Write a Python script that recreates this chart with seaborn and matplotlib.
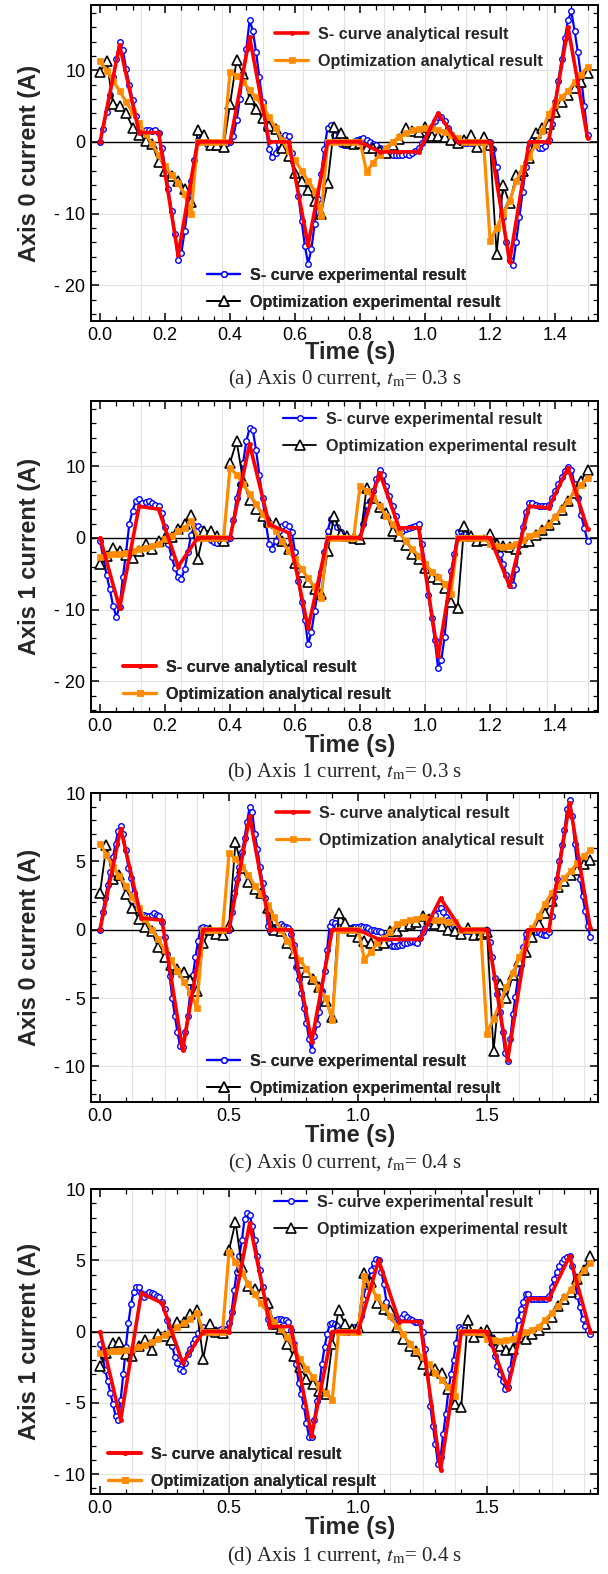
import numpy as np
import matplotlib
matplotlib.use("Agg")
import matplotlib.pyplot as plt
from matplotlib.ticker import MultipleLocator, FuncFormatter
import seaborn as sns

sns.set_style("ticks")
plt.rcParams["font.family"] = ["Liberation Sans", "DejaVu Sans"]
plt.rcParams["mathtext.fontset"] = "stix"

# ---------------------------------------------------------------------------
# (a) Axis 0 current, tm = 0.3 s
# ---------------------------------------------------------------------------
a_scurve_ana_t = [0, 0.06, 0.12, 0.18, 0.24, 0.30, 0.40, 0.46, 0.52, 0.58, 0.64, 0.70,
                  0.80, 0.86, 0.92, 0.98, 1.04, 1.10, 1.20, 1.26, 1.32, 1.38, 1.44, 1.50]
a_scurve_ana_v = [0, 13.5, 1.3, 1.3, -15.8, 0, 0, 14.6, 0, 0, -14.4, 0,
                  0, -1.4, -1.4, -1.4, 4.0, 0, 0, -16.7, 0, 0, 16.0, 0.5]
# sampled every 0.01 s
a_scurve_exp = [
    0.0, 1.8, 4.2, 6.6, 9.0, 11.5, 14.0, 12.8, 10.2, 8.0,
    5.8, 3.6, 1.8, 1.4, 1.6, 1.7, 1.5, 1.7, 1.2, -0.8,
    -3.6, -6.6, -9.6, -12.8, -16.5, -15.5, -12.5, -9.0, -5.5, -2.5,
    0.3, 0.6, 0.2, -0.3, -0.5, -0.7, -0.6, -0.7, -0.4, -0.2,
    0.0, 0.8, 3.0, 6.0, 9.5, 13.0, 17.0, 15.5, 12.5, 9.0,
    5.5, 2.0, -1.0, -2.1, -1.5, -0.3, 0.6, 1.0, 0.8, -1.5,
    -4.5, -7.5, -11.0, -14.5, -17.0, -15.0, -11.5, -8.0, -4.5, -1.0,
    2.0, 2.3, 1.0, 0.2, -0.3, -0.5, -0.4, -0.2, 0.0, 0.2,
    0.4, 0.6, 0.3, 0.0, -0.3, -0.5, -0.8, -1.1, -1.4, -1.6,
    -1.8, -1.8, -1.9, -1.8, -1.7, -1.8, -1.6, -1.3, -0.9, -0.2,
    0.5, 1.3, 2.1, 2.9, 3.4, 3.5, 2.9, 2.0, 1.0, 0.4,
    0.1, 0.0, -0.1, -0.2, -0.2, -0.1, 0.0, 0.0, 0.0, 0.0,
    0.0, -1.0, -3.5, -7.0, -10.5, -14.0, -16.5, -17.2, -14.0, -10.5,
    -7.0, -3.5, -0.8, 0.3, -0.5, -0.9, -0.8, -0.6, 0.3, 2.5,
    5.5, 8.5, 11.5, 14.5, 17.0, 18.2, 15.5, 12.5, 9.0, 5.0,
    1.0]
# sampled every 0.02 s
a_opt_ana = [
    11.3, 9.9, 8.5, 7.1, 5.6, 4.1, 2.6, 1.1, -0.3, -1.9,
    -3.4, -4.6, -5.8, -7.3, -10.0, 0.0, 0.0, 0.0, 0.0, 0.0,
    9.8, 9.2, 8.4, 7.2, 6.2, 4.9, 3.5, 1.9, 0.2, -1.3,
    -2.6, -4.0, -5.4, -6.8, -10.3, 0.0, 0.0, 0.0, 0.0, 0.0,
    0.0, -4.2, -2.9, -1.8, -0.8, 0.0, 0.7, 1.2, 1.6, 1.8,
    1.9, 1.9, 1.7, 1.4, 1.0, 0.6, 0.0, 0.0, 0.0, 0.0,
    -13.8, -12.0, -10.0, -8.3, -5.5, -3.7, -2.1, -0.4, 1.5, 3.9,
    5.2, 6.2, 7.1, 8.3, 9.4, 10.5]
a_opt_exp = [
    9.8, 11.3, 5.3, 5.0, 4.0, 2.0, 1.0, 0.1, -0.3, -2.8,
    -4.1, -4.8, -5.5, -6.6, -8.4, 1.6, 0.9, -0.5, -0.5, -0.7,
    5.3, 11.4, 9.5, 6.0, 4.6, 3.3, 2.2, 1.8, -0.8, -2.0,
    -4.3, -5.5, -6.7, -8.2, -10.0, -5.8, 2.1, 1.2, 0.0, -0.3,
    -0.2, -0.9, -0.9, -1.3, -1.5, -0.5, 0.4, 1.9, 1.5, 1.4,
    2.1, 0.8, 0.8, 0.7, 0.2, -0.1, 0.3, 0.9, -0.7, 0.7,
    -0.5, -15.6, -6.0, -8.6, -4.6, -4.1, -2.3, 1.2, 1.9, 2.5,
    4.2, 5.5, 6.5, 7.5, 8.4, 9.6]

# ---------------------------------------------------------------------------
# (b) Axis 1 current, tm = 0.3 s
# ---------------------------------------------------------------------------
b_scurve_ana_t = [0, 0.06, 0.12, 0.18, 0.24, 0.30, 0.40, 0.46, 0.52, 0.58, 0.64, 0.70,
                  0.80, 0.86, 0.92, 0.98, 1.04, 1.10, 1.20, 1.26, 1.32, 1.38, 1.44, 1.50]
b_scurve_ana_v = [0, -9.8, 4.4, 4.0, -4.0, 0, 0, 13.1, 1.9, 0.7, -12.6, 0,
                  0, 9.1, 1.4, 1.4, -16.5, 0, 0, -6.7, 4.4, 4.2, 9.8, 1.2]
b_scurve_exp = [
    -0.5, -2.8, -5.2, -7.2, -9.5, -11.0, -9.6, -5.5, -2.0, 2.0,
    3.8, 5.2, 5.4, 4.8, 5.0, 5.2, 4.9, 4.6, 4.4, 3.5,
    1.5, -0.8, -2.6, -4.2, -5.4, -5.7, -4.4, -2.0, 0.4, 1.7,
    1.6, 1.2, 0.7, 0.2, -0.3, -0.6, -0.7, -0.5, -0.3, -0.1,
    0.0, 2.5, 5.5, 7.5, 10.5, 13.5, 15.3, 15.0, 12.2, 8.8,
    5.5, 2.0, -0.8, -1.5, -0.4, 1.0, 1.7, 1.9, 1.7, 0.8,
    -2.0, -6.0, -9.0, -11.5, -14.8, -13.2, -10.2, -7.5, -4.8, -2.0,
    1.0, 2.6, 2.2, 1.5, 0.8, 0.3, 0.0, 0.0, -0.2, -0.4,
    -0.3, 2.0, 4.6, 5.2, 6.5, 8.2, 9.5, 8.8, 7.2, 5.8,
    4.5, 3.0, 1.3, 1.0, 1.2, 1.4, 1.5, 1.7, 1.9, -0.8,
    -3.7, -8.0, -11.2, -14.3, -18.2, -17.0, -13.8, -9.0, -4.6, -2.2,
    0.8, 1.0, 0.5, 0.1, 0.0, 0.0, -0.1, -0.2, -0.2, -0.1,
    0.0, -0.5, -1.2, -2.2, -3.6, -5.2, -6.6, -6.6, -4.3, -1.0,
    1.5, 3.6, 4.8, 4.8, 4.6, 4.4, 4.4, 4.4, 4.6, 5.5,
    6.6, 7.5, 8.5, 9.3, 9.9, 9.5, 7.5, 5.5, 3.2, 1.4,
    -0.5]
b_opt_ana = [
    -2.6, -2.4, -2.3, -2.2, -2.1, -1.9, -1.6, -1.4, -1.1, -0.8,
    -0.2, 0.3, 0.9, 1.4, 2.4, 0.0, 0.0, 0.0, 0.0, 0.0,
    9.8, 8.8, 7.5, 6.1, 4.7, 3.3, 2.0, 1.0, -0.5, -1.8,
    -3.0, -4.4, -5.6, -6.9, -8.4, 0.0, 0.0, 0.0, 0.0, 0.0,
    7.3, 6.6, 5.6, 4.4, 3.1, 1.9, 0.8, -0.5, -1.5, -2.5,
    -3.6, -4.7, -5.5, -6.4, -7.8, 0.0, 0.0, 0.0, 0.0, 0.0,
    -0.8, -1.1, -1.3, -1.2, -0.8, -0.3, 0.2, 0.6, 1.1, 1.8,
    2.9, 4.0, 5.2, 6.4, 7.4, 8.4]
b_opt_exp = [
    -3.7, -2.5, -1.4, -1.9, -2.4, -2.8, -1.8, -0.8, -1.5, -0.5,
    0.0, 0.1, 1.3, 2.0, 3.2, -3.0, 1.0, 0.9, 0.2, -0.5,
    10.5, 13.5, 8.0, 5.3, 4.0, 3.0, 2.2, 2.1, -0.5, -1.6,
    -3.5, -4.7, -6.2, -7.2, -7.8, -1.9, 3.0, 0.5, 0.2, 0.0,
    -0.2, 7.0, 5.6, 4.3, 3.5, 0.9, 0.2, -1.0, -2.2, -3.0,
    -4.2, -5.4, -5.8, -7.0, -8.9, -9.8, 1.6, 0.2, -0.5, -0.3,
    0.5, -0.8, -1.1, -1.3, -1.6, -0.6, -0.5, 0.4, 1.1, 1.8,
    2.6, 3.9, 5.1, 6.2, 8.0, 9.5]

# ---------------------------------------------------------------------------
# (c) Axis 0 current, tm = 0.4 s
# ---------------------------------------------------------------------------
c_scurve_ana_t = [0, 0.08, 0.16, 0.24, 0.32, 0.40, 0.50, 0.58, 0.66, 0.74, 0.82, 0.90,
                  1.00, 1.08, 1.16, 1.24, 1.32, 1.40, 1.50, 1.58, 1.66, 1.74, 1.82, 1.90]
c_scurve_ana_v = [0, 7.4, 0.85, 0.7, -8.8, 0, 0, 8.3, 0, 0, -8.2, 0,
                  0, -0.7, -0.7, -0.7, 2.3, 0, 0, -9.5, 0, 0, 9.3, 0.1]
c_scurve_exp = [
    0.0, 1.3, 2.3, 3.3, 4.2, 5.3, 6.3, 7.2, 7.6, 7.0,
    5.8, 4.5, 3.8, 2.7, 1.9, 1.4, 1.1, 1.1, 1.0, 1.0,
    1.1, 1.2, 1.1, 1.0, 0.6, -0.5, -1.8, -3.4, -5.0, -6.3,
    -7.5, -8.5, -8.6, -7.5, -6.3, -4.6, -3.3, -2.0, -0.8, 0.1,
    0.2, 0.1, 0.0, -0.1, -0.1, -0.1, -0.1, 0.0, 0.0, 0.0,
    0.0, 1.3, 2.7, 3.7, 4.6, 5.7, 6.7, 7.9, 9.0, 8.6,
    7.0, 5.9, 4.6, 3.4, 2.3, 0.3, -0.1, 0.1, 0.2, 0.3,
    0.4, 0.3, 0.2, 0.1, -0.3, -1.1, -2.7, -3.6, -4.6, -5.7,
    -6.8, -8.0, -8.8, -7.8, -6.9, -6.0, -4.5, -3.0, -1.5, 0.3,
    0.6, 0.5, 0.3, 0.2, 0.1, 0.0, 0.0, 0.1, 0.2, 0.2,
    0.2, 0.3, 0.2, 0.2, 0.1, 0.0, 0.0, -0.1, -0.1, -0.2,
    -0.5, -0.8, -1.0, -1.2, -1.2, -1.2, -1.1, -1.1, -1.0, -1.0,
    -0.9, -0.8, -0.9, -1.0, -0.6, -0.2, 0.1, 0.3, 0.5, 0.8,
    1.1, 1.6, 1.6, 1.3, 0.9, 0.7, 0.5, 0.3, 0.1, 0.0,
    -0.1, -0.1, -0.1, -0.1, 0.0, 0.0, 0.0, 0.0, 0.0, 0.0,
    0.0, -0.9, -2.0, -3.5, -4.7, -6.0, -7.5, -9.0, -9.6, -8.0,
    -6.2, -4.9, -3.5, -2.6, -1.3, -0.3, -0.1, -0.1, -0.1, -0.2,
    -0.2, -0.3, -0.4, -0.4, -0.2, 1.0, 2.4, 3.7, 5.0, 6.2,
    7.3, 8.8, 9.5, 8.3, 6.3, 4.6, 3.7, 2.5, 1.4, 0.3,
    -0.5]
# sampled every 0.025 s
c_opt_ana = [
    6.3, 5.5, 4.6, 3.9, 3.2, 2.4, 1.6, 0.8, 0.0, -0.7,
    -1.5, -2.2, -3.0, -3.8, -4.6, -5.7, 0.0, 0.0, 0.0, 0.0,
    5.6, 5.2, 4.6, 4.0, 3.2, 2.6, 1.8, 0.9, 0.0, -0.8,
    -1.5, -2.2, -2.9, -3.6, -4.3, -5.0, -6.6, 0.0, 0.0, 0.0,
    0.0, -2.2, -1.6, -1.0, -0.6, -0.2, 0.4, 0.6, 0.7, 0.8,
    0.9, 0.8, 0.7, 0.7, 0.6, 0.6, 0.0, 0.0, 0.0, 0.0,
    -7.6, -6.5, -5.4, -4.2, -3.2, -2.0, -1.0, 0.1, 1.0, 1.9,
    2.7, 3.2, 3.8, 4.3, 4.9, 5.4, 5.8]
c_opt_exp = [
    2.7, 6.2, 3.7, 4.0, 2.6, 1.6, 0.8, 0.2, -0.1, -1.3,
    -2.0, -2.6, -2.9, -3.1, -3.7, -4.5, -1.0, 0.0, -0.3, -0.4,
    0.3, 6.4, 4.5, 3.5, 3.0, 2.7, 1.6, 0.0, -0.1, -1.0,
    -1.7, -2.4, -3.1, -3.6, -4.2, -5.2, -6.4, 1.2, 0.5, -0.1,
    -0.5, -0.8, -1.0, -1.1, -1.0, -0.1, -0.1, 0.3, 0.4, 0.6,
    1.0, 0.8, 0.4, 0.3, 0.0, -0.1, -0.3, 0.1, -0.4, -0.3,
    -0.2, -8.9, -4.0, -5.0, -3.3, -2.3, -1.6, -0.5, 0.4, 1.2,
    2.1, 3.1, 3.6, 4.0, 4.4, 4.8, 5.1]

# ---------------------------------------------------------------------------
# (d) Axis 1 current, tm = 0.4 s
# ---------------------------------------------------------------------------
d_scurve_ana_t = [0, 0.08, 0.16, 0.24, 0.32, 0.40, 0.50, 0.58, 0.66, 0.74, 0.82, 0.90,
                  1.00, 1.08, 1.16, 1.24, 1.32, 1.40, 1.50, 1.58, 1.66, 1.74, 1.82, 1.90]
d_scurve_ana_v = [0, -6.2, 2.7, 2.0, -2.2, 0, 0, 7.6, 0.35, 0.35, -7.3, 0,
                  0, 5.0, 0.7, 0.7, -9.7, 0, 0, -4.0, 2.3, 2.3, 5.3, 0]
d_scurve_exp = [
    -0.9, -1.8, -2.7, -3.5, -4.3, -5.1, -5.9, -6.2, -4.8, -3.0,
    -1.1, 0.6, 1.9, 2.8, 3.1, 3.1, 2.7, 2.4, 2.6, 2.8,
    2.7, 2.6, 2.5, 2.4, 2.1, 1.6, 0.8, -0.3, -1.0, -1.8,
    -2.2, -2.6, -2.8, -2.2, -1.6, -1.2, -0.8, -0.5, -0.1, 0.2,
    0.3, 0.1, 0.0, -0.1, 0.0, 0.0, 0.1, 0.2, 0.2, 0.1,
    0.6, 1.4, 2.9, 4.2, 5.3, 6.4, 7.9, 8.3, 8.2, 7.4,
    6.4, 5.3, 4.3, 3.1, 1.9, 0.9, 0.5, 0.6, 0.8, 0.9,
    0.9, 0.8, 0.8, 0.7, 0.1, -0.9, -2.3, -3.6, -4.4, -5.2,
    -6.4, -7.4, -7.4, -6.2, -4.9, -3.7, -2.3, -1.1, -0.2, 0.5,
    0.6, 0.5, 0.4, 0.2, 0.1, 0.0, 0.0, 0.1, 0.2, 0.3,
    0.3, 1.1, 2.3, 3.2, 3.7, 4.3, 4.8, 5.1, 5.0, 4.2,
    3.3, 2.1, 1.4, 1.0, 0.9, 0.8, 0.8, 1.0, 1.2, 1.0,
    0.9, 0.8, 0.7, 0.7, 0.7, 0.0, -1.2, -2.7, -5.2, -6.6,
    -7.9, -9.3, -8.8, -7.2, -5.8, -4.2, -3.0, -2.0, -0.8, 0.3,
    0.2, 0.1, 0.0, 0.0, 0.0, 0.0, 0.0, 0.0, 0.0, 0.0,
    0.0, -0.4, -0.9, -1.7, -2.4, -3.0, -3.5, -4.0, -3.9, -2.6,
    -1.3, -0.2, 0.8, 1.6, 2.1, 2.6, 2.6, 2.3, 2.3, 2.3,
    2.3, 2.3, 2.3, 2.3, 2.5, 3.1, 3.7, 4.2, 4.6, 4.9,
    5.1, 5.2, 5.3, 4.6, 3.5, 2.5, 1.7, 0.9, 0.4, 0.1,
    -0.2]
d_opt_ana = [
    -1.5, -1.45, -1.4, -1.35, -1.3, -1.2, -1.1, -0.95, -0.75, -0.5,
    -0.25, 0.0, 0.3, 0.6, 0.9, 1.3, 0.0, 0.0, 0.0, 0.0,
    5.6, 4.9, 4.1, 3.3, 2.6, 2.0, 1.3, 0.7, 0.2, -0.4,
    -1.1, -1.9, -2.6, -3.2, -3.8, -4.3, -4.8, 0.0, 0.0, 0.0,
    0.0, 3.9, 3.1, 2.4, 1.7, 1.1, 0.4, -0.2, -0.9, -1.4,
    -1.8, -2.3, -2.9, -3.4, -3.9, -4.5, 0.0, 0.0, 0.0, 0.0,
    -0.5, -0.6, -0.65, -0.6, -0.5, -0.25, -0.05, 0.1, 0.35, 0.8,
    1.3, 1.8, 2.4, 2.9, 3.7, 4.3, 4.8]
d_opt_exp = [
    -2.4, -1.5, -0.8, -0.7, -1.6, -1.7, -1.0, -0.6, -1.3, -0.2,
    -0.3, -0.6, 0.7, 0.7, 1.2, 1.5, -1.9, 0.5, 0.0, -0.1,
    5.7, 7.7, 4.5, 3.2, 3.0, 2.7, 2.0, 0.5, 0.2, -0.9,
    -1.7, -2.5, -3.3, -3.7, -4.2, -4.4, -0.9, 1.5, 0.5, 0.2,
    0.3, 4.1, 3.5, 2.0, 1.6, 1.5, 0.3, -0.5, -1.0, -1.4,
    -2.3, -2.7, -2.6, -2.9, -4.0, -5.1, -5.3, 0.8, -0.4, 0.0,
    0.1, -0.6, -1.0, -1.3, -1.2, -0.4, -0.5, -0.2, 0.1, 0.5,
    1.0, 1.8, 2.3, 2.8, 3.7, 4.3, 5.3]

LBL_SA = "S- curve analytical result"
LBL_OA = "Optimization analytical result"
LBL_SE = "S- curve experimental result"
LBL_OE = "Optimization experimental result"

# ---------------------------------------------------------------------------
# Figure layout (pixel geometry of a 608 x 1574 canvas)
# ---------------------------------------------------------------------------
W, H = 608, 1574
AX_LEFT, AX_RIGHT = 91, 598

panels = [
    dict(box=(5, 321), xlim=(-0.028, 1.532), ylim=(-25, 19.1), xmaj=0.2, xmin=0.05,
         ymaj=10, ymin=2, ylabel="Axis 0 current (A)", xlabel_y=353, cap_y=379,
         caption=r"(a) Axis 0 current, $t_{\rm m}$= 0.3 s",
         red=(a_scurve_ana_t, a_scurve_ana_v), blue=a_scurve_exp,
         orange=a_opt_ana, black=a_opt_exp, dt_opt=0.02,
         leg_top=("ana", (275, 27)), leg_bot=("exp", (207, 268))),
    dict(box=(401, 712), xlim=(-0.028, 1.532), ylim=(-24.3, 19.1), xmaj=0.2, xmin=0.05,
         ymaj=10, ymin=2, ylabel="Axis 1 current (A)", xlabel_y=746, cap_y=772,
         caption=r"(b) Axis 1 current, $t_{\rm m}$= 0.3 s",
         red=(b_scurve_ana_t, b_scurve_ana_v), blue=b_scurve_exp,
         orange=b_opt_ana, black=b_opt_exp, dt_opt=0.02,
         leg_top=("exp", (283, 412)), leg_bot=("ana", (123, 660))),
    dict(box=(793, 1102), xlim=(-0.035, 1.93), ylim=(-12.6, 10.0), xmaj=0.5, xmin=0.1,
         ymaj=5, ymin=1, ylabel="Axis 0 current (A)", xlabel_y=1136, cap_y=1163,
         caption=r"(c) Axis 0 current, $t_{\rm m}$= 0.4 s",
         red=(c_scurve_ana_t, c_scurve_ana_v), blue=c_scurve_exp,
         orange=c_opt_ana, black=c_opt_exp, dt_opt=0.025,
         leg_top=("ana", (276, 806)), leg_bot=("exp", (207, 1054))),
    dict(box=(1189, 1494), xlim=(-0.035, 1.93), ylim=(-11.4, 10.0), xmaj=0.5, xmin=0.1,
         ymaj=5, ymin=1, ylabel="Axis 1 current (A)", xlabel_y=1528, cap_y=1556,
         caption=r"(d) Axis 1 current, $t_{\rm m}$= 0.4 s",
         red=(d_scurve_ana_t, d_scurve_ana_v), blue=d_scurve_exp,
         orange=d_opt_ana, black=d_opt_exp, dt_opt=0.025,
         leg_top=("exp", (274, 1195)), leg_bot=("ana", (108, 1447))),
]

fig = plt.figure(figsize=(W / 100, H / 100), dpi=100)


def neg_fmt(v, _pos):
    if abs(v) < 1e-9:
        return "0"
    return f"- {abs(v):g}" if v < 0 else f"{v:g}"


for p in panels:
    top, bot = p["box"]
    ax = fig.add_axes([AX_LEFT / W, 1 - bot / H, (AX_RIGHT - AX_LEFT) / W, (bot - top) / H])
    ax.set_xlim(*p["xlim"])
    ax.set_ylim(*p["ylim"])

    # light grid: vertical every 0.125 s, horizontal at major y ticks
    for g in np.arange(0.125, p["xlim"][1], 0.125):
        ax.axvline(g, color="#e3e3e3", lw=0.8, zorder=0)
    ax.yaxis.grid(True, color="#e3e3e3", lw=0.8, zorder=0)
    ax.set_axisbelow(True)
    ax.axhline(0, color="black", lw=1.0, zorder=1.5)

    t_exp = np.arange(len(p["blue"])) * 0.01
    t_opt = np.arange(len(p["orange"])) * p["dt_opt"]

    sns.lineplot(x=t_exp, y=p["blue"], ax=ax, color="#0000ff", linewidth=1.6,
                 marker="o", markersize=4.0, markerfacecolor="white",
                 markeredgecolor="#0000ff", markeredgewidth=1.0,
                 sort=False, estimator=None, legend=False, zorder=2)
    h_se = ax.lines[-1]
    sns.lineplot(x=t_opt, y=p["black"], ax=ax, color="black", linewidth=1.3,
                 marker="^", markersize=7.5, markerfacecolor="white",
                 markeredgecolor="black", markeredgewidth=1.2,
                 sort=False, estimator=None, legend=False, zorder=3)
    h_oe = ax.lines[-1]
    sns.lineplot(x=t_opt, y=p["orange"], ax=ax, color="#ff8c00", linewidth=2.3,
                 marker="s", markersize=4.5, markerfacecolor="#ff8c00",
                 markeredgecolor="#ff8c00", markeredgewidth=0.5,
                 sort=False, estimator=None, legend=False, zorder=4)
    h_oa = ax.lines[-1]
    sns.lineplot(x=p["red"][0], y=p["red"][1], ax=ax, color="#ff0000", linewidth=2.6,
                 marker="o", markersize=3.0, markerfacecolor="#ff0000",
                 markeredgecolor="#ff0000", markeredgewidth=0.5,
                 sort=False, estimator=None, legend=False, zorder=5)
    h_sa = ax.lines[-1]

    groups = {"ana": ([h_sa, h_oa], [LBL_SA, LBL_OA]),
              "exp": ([h_se, h_oe], [LBL_SE, LBL_OE])}
    for key, (lx, ly) in (p["leg_top"], p["leg_bot"]):
        hs, ls = groups[key]
        leg = ax.legend(hs, ls, loc="upper left", bbox_to_anchor=(lx / W, 1 - ly / H),
                        bbox_transform=fig.transFigure, frameon=False, borderpad=0,
                        borderaxespad=0, handlelength=2.05, handletextpad=0.62,
                        labelspacing=0.75, prop=dict(weight="bold", size=11.6))
        ax.add_artist(leg)

    ax.xaxis.set_major_locator(MultipleLocator(p["xmaj"]))
    ax.xaxis.set_minor_locator(MultipleLocator(p["xmin"]))
    ax.yaxis.set_major_locator(MultipleLocator(p["ymaj"]))
    ax.yaxis.set_minor_locator(MultipleLocator(p["ymin"]))
    ax.xaxis.set_major_formatter(FuncFormatter(lambda v, _p: f"{v:.1f}"))
    ax.yaxis.set_major_formatter(FuncFormatter(neg_fmt))
    ax.tick_params(which="both", direction="in", top=True, right=True, colors="black")
    ax.tick_params(which="major", length=6, width=1.1, labelsize=13, pad=4)
    ax.tick_params(which="minor", length=3.5, width=0.9)
    for sp in ax.spines.values():
        sp.set_linewidth(1.4)
        sp.set_color("black")

    h_ax = bot - top
    ax.set_xlabel("Time (s)", fontsize=17, fontweight="bold")
    ax.xaxis.set_label_coords(0.5 + 6 / (AX_RIGHT - AX_LEFT),
                              -(p["xlabel_y"] - 12 - bot) / h_ax)
    ax.set_ylabel(p["ylabel"], fontsize=17, fontweight="bold")
    ax.yaxis.set_label_coords(-(AX_LEFT - 41) / (AX_RIGHT - AX_LEFT), 0.5)

    fig.text((AX_LEFT + AX_RIGHT) / 2 / W, 1 - p["cap_y"] / H, p["caption"],
             ha="center", va="center", fontsize=15, family="Liberation Serif")

fig.savefig("out.png", dpi=100)
